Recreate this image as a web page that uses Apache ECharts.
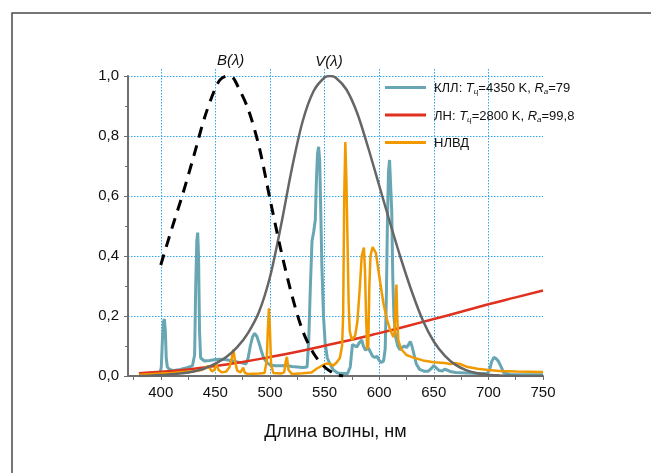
<!DOCTYPE html>
<html><head><meta charset="utf-8">
<script src="https://cdn.jsdelivr.net/npm/echarts@6/dist/echarts.min.js"></script>
<style>html,body{margin:0;padding:0;background:#fff}#c{width:651px;height:473px}</style>
</head><body><div id="c"></div>
<script>
// КЛЛ spectrum [wavelength, value]
const kllData = [[399,0.004],[400.5,0.03],[401.5,0.12],[402.5,0.18],[403.3,0.19],[404.2,0.15],[405,0.06],[406,0.03],[408,0.022],[412,0.018],[418,0.022],[424,0.028],[429,0.034],[431,0.07],[432,0.3],[433,0.45],[433.8,0.478],[434.6,0.4],[435.5,0.15],[436.5,0.06],[440,0.05],[445,0.052],[450,0.055],[455,0.056],[460,0.054],[465,0.051],[470,0.047],[475,0.043],[478,0.04],[480,0.06],[482,0.1],[484,0.13],[486,0.142],[488,0.132],[490,0.11],[492,0.085],[494,0.062],[497,0.045],[500,0.037],[505,0.034],[510,0.034],[515,0.035],[520,0.032],[525,0.03],[530,0.028],[534,0.03],[535.5,0.12],[537,0.3],[538.5,0.45],[540,0.48],[541.5,0.52],[542.5,0.65],[543.5,0.74],[544.5,0.764],[545.5,0.72],[546.5,0.55],[547.5,0.37],[549,0.2],[550.5,0.11],[552.5,0.06],[555,0.04],[558,0.02],[562,0.01],[566,0.008],[571,0.008],[573.5,0.03],[575.5,0.105],[577,0.11],[579.5,0.097],[582,0.112],[584,0.12],[585.5,0.1],[587.5,0.086],[590,0.094],[592,0.08],[594,0.066],[596,0.062],[598,0.066],[600,0.052],[602,0.045],[604,0.05],[605.5,0.09],[606.5,0.25],[607.5,0.5],[608.5,0.68],[609.5,0.72],[610.5,0.715],[611.5,0.55],[612.5,0.32],[613.5,0.2],[615,0.13],[617,0.1],[619,0.088],[621,0.095],[623,0.1],[625,0.095],[627,0.105],[628.5,0.115],[630,0.1],[632,0.07],[634,0.04],[637,0.022],[641,0.016],[645,0.016],[648,0.026],[650,0.035],[652,0.028],[655,0.018],[658,0.017],[660,0.023],[662,0.02],[666,0.014],[670,0.012],[680,0.01],[690,0.008],[699,0.008],[701,0.02],[703,0.048],[705,0.062],[707,0.058],[709,0.05],[710.5,0.046],[712,0.028],[714,0.01],[720,0.005],[735,0.004],[750,0.004]];
// ЛН spectrum
const lnData = [[380,0.009],[400,0.014],[425,0.022],[450,0.033],[475,0.047],[500,0.063],[525,0.081],[550,0.101],[575,0.121],[600,0.143],[625,0.166],[650,0.19],[675,0.214],[700,0.239],[725,0.262],[750,0.285]];
// НЛВД spectrum
const nlvdData = [[380,0.004],[390,0.006],[400,0.008],[410,0.01],[420,0.013],[430,0.016],[437,0.02],[440,0.025],[443,0.033],[445,0.025],[447,0.015],[449,0.02],[451,0.038],[453,0.02],[456,0.012],[460,0.015],[463,0.03],[465,0.06],[466.5,0.088],[468,0.05],[470,0.018],[473,0.012],[475.5,0.028],[477,0.01],[480,0.007],[490,0.008],[495,0.01],[497,0.05],[498,0.15],[499,0.226],[500,0.15],[501,0.04],[503,0.01],[510,0.008],[513,0.012],[514.5,0.05],[515.5,0.064],[517,0.02],[520,0.007],[530,0.009],[538,0.012],[543,0.025],[548,0.035],[552,0.042],[555,0.04],[558,0.035],[561,0.045],[564,0.06],[566,0.1],[567,0.2],[568,0.6],[569,0.78],[570,0.65],[571,0.45],[572,0.25],[573,0.15],[575,0.12],[578,0.135],[580,0.18],[582,0.28],[584,0.4],[586,0.428],[587,0.35],[588,0.2],[589,0.09],[590,0.1],[591,0.3],[592,0.4],[594,0.43],[595,0.432],[597,0.41],[599,0.36],[601,0.31],[604,0.24],[607,0.19],[610,0.155],[613,0.13],[614,0.14],[615,0.25],[615.8,0.305],[616.5,0.2],[617.5,0.12],[620,0.09],[625,0.07],[630,0.063],[640,0.052],[650,0.046],[660,0.043],[665,0.04],[670,0.043],[674,0.04],[680,0.031],[690,0.024],[700,0.02],[710,0.017],[725,0.015],[750,0.013]];
// V(λ)
const vData = [[380,0],[390,0.001],[400,0.003],[410,0.006],[420,0.009],[430,0.015],[440,0.025],[450,0.041],[460,0.063],[470,0.096],[480,0.144],[490,0.214],[500,0.33],[510,0.5],[520,0.69],[530,0.85],[540,0.95],[550,0.995],[555,1.0],[560,0.995],[570,0.955],[580,0.875],[590,0.76],[600,0.635],[610,0.51],[620,0.39],[630,0.28],[640,0.185],[650,0.115],[660,0.068],[670,0.037],[680,0.019],[690,0.009],[700,0.004],[710,0.002],[720,0.001],[735,0],[750,0]];
// B(λ)
const bData = [[400,0.37],[410,0.49],[420,0.605],[430,0.73],[440,0.86],[450,0.96],[455,0.99],[461,1.0],[466,0.995],[470,0.97],[480,0.89],[490,0.765],[500,0.59],[510,0.42],[520,0.27],[530,0.15],[540,0.075],[550,0.03],[560,0.006],[567,0]];

const xLabelValues = [400,450,500,550,600,650,700,750];
const xTickValues = [375,400,425,450,475,500,525,550,575,600,625,650,675,700,725,750];
const xGridValues = [400,450,500,550,600,650,700];

const FONT = '"Liberation Sans", Arial, sans-serif';
const gridColor = '#2ea6ea';
const axisColor = '#6e6e6e';

const legendText = {
  'КЛЛ': '{n|КЛЛ: }{i|T}{s|ц}{n|=4350 K, }{i|R}{s|а}{n|=79}',
  'ЛН': '{n|ЛН: }{i|T}{s|ц}{n|=2800 K, }{i|R}{s|а}{n|=99,8}',
  'НЛВД': '{n|НЛВД}'
};

const chart = echarts.init(document.getElementById('c'), null, {renderer:'canvas'});
chart.setOption({
  animation: false,
  backgroundColor: '#fff',
  graphic: [{
    type: 'rect', shape: {x: 12, y: 13, width: 700, height: 600},
    style: {fill: 'none', stroke: '#4a4a4a', lineWidth: 1.5}, silent: true, z: -1
  }],
  grid: [
    {left: 128, right: 108, top: 76, bottom: 97},
    {left: 128, right: 108, top: 69, bottom: 97}
  ],
  legend: {
    orient: 'vertical', left: 380, top: 77,
    itemWidth: 41, itemHeight: 14, itemGap: 13.5,
    icon: 'path://M0,0h41v3H0z',
    data: ['КЛЛ', 'ЛН', 'НЛВД'],
    formatter: name => legendText[name],
    textStyle: {
      fontFamily: FONT, fontSize: 13, color: '#111', padding: [2,0,0,3],
      rich: {
        n: {fontFamily: FONT, fontSize: 13, color: '#111'},
        i: {fontFamily: FONT, fontSize: 13, color: '#111', fontStyle: 'italic'},
        s: {fontFamily: FONT, fontSize: 8, color: '#111', fontStyle: 'italic', padding: [7,0,0,0]}
      }
    }
  },
  xAxis: [{
    type: 'value', gridIndex: 0, min: 370, max: 750,
    name: 'Длина волны, нм', nameLocation: 'middle', nameGap: 47,
    nameTextStyle: {fontFamily: FONT, fontSize: 18, color: '#111'},
    axisLine: {show: true, onZero: false, lineStyle: {color: axisColor, width: 2}},
    axisTick: {show: true, length: 4, customValues: xTickValues, lineStyle: {color: axisColor, width: 1}},
    axisLabel: {customValues: xLabelValues, fontFamily: FONT, fontSize: 15, color: '#111', margin: 9},
    splitLine: {show: false}
  }, {
    type: 'value', gridIndex: 1, min: 370, max: 750,
    axisLine: {show: false},
    axisTick: {show: false, customValues: xGridValues},
    axisLabel: {show: false},
    splitLine: {show: true, lineStyle: {color: gridColor, width: 1, type: [1.5, 1.5]}}
  }],
  yAxis: [{
    type: 'value', gridIndex: 0, min: 0, max: 1, interval: 0.2,
    axisLine: {show: true, lineStyle: {color: axisColor, width: 2}},
    axisTick: {show: true, length: 4, lineStyle: {color: axisColor, width: 1}},
    minorTick: {show: true, splitNumber: 2, length: 3, lineStyle: {color: axisColor, width: 1}},
    axisLabel: {fontFamily: FONT, fontSize: 15, color: '#111', margin: 9,
      formatter: v => v.toFixed(1).replace('.', ',')},
    splitLine: {show: true, lineStyle: {color: gridColor, width: 1, type: [1.5, 1.5]}}
  }, {
    type: 'value', gridIndex: 1, min: 0, max: 1, show: false
  }],
  series: [
    {name: 'КЛЛ', type: 'line', data: kllData, symbol: 'none', z: 2,
      lineStyle: {color: '#68a6b3', width: 3}, itemStyle: {color: '#68a6b3'}},
    {name: 'ЛН', type: 'line', data: lnData, symbol: 'none', smooth: true, z: 3,
      lineStyle: {color: '#e0301e', width: 2.5}, itemStyle: {color: '#e0301e'}},
    {name: 'НЛВД', type: 'line', data: nlvdData, symbol: 'none', z: 4,
      lineStyle: {color: '#f09a00', width: 2.5}, itemStyle: {color: '#f09a00'}},
    {name: 'V', type: 'line', data: vData, symbol: 'none', smooth: 0.3, z: 5,
      lineStyle: {color: '#666666', width: 2.5}, itemStyle: {color: '#666666'},
      markPoint: {symbol: 'circle', symbolSize: 0, silent: true,
        label: {show: true, position: 'inside', offset: [0, -14], formatter: 'V(λ)',
          fontFamily: FONT, fontStyle: 'italic', fontSize: 15, color: '#111'},
        data: [{coord: [554, 1.0]}]}},
    {name: 'B', type: 'line', data: bData, symbol: 'none', smooth: 0.3, z: 6,
      lineStyle: {color: '#000000', width: 3, type: [11, 8]}, itemStyle: {color: '#000'},
      markPoint: {symbol: 'circle', symbolSize: 0, silent: true,
        label: {show: true, position: 'inside', offset: [0, -15], formatter: 'B(λ)',
          fontFamily: FONT, fontStyle: 'italic', fontSize: 15, color: '#111'},
        data: [{coord: [464, 1.0]}]}}
  ]
});
</script>
</body></html>
